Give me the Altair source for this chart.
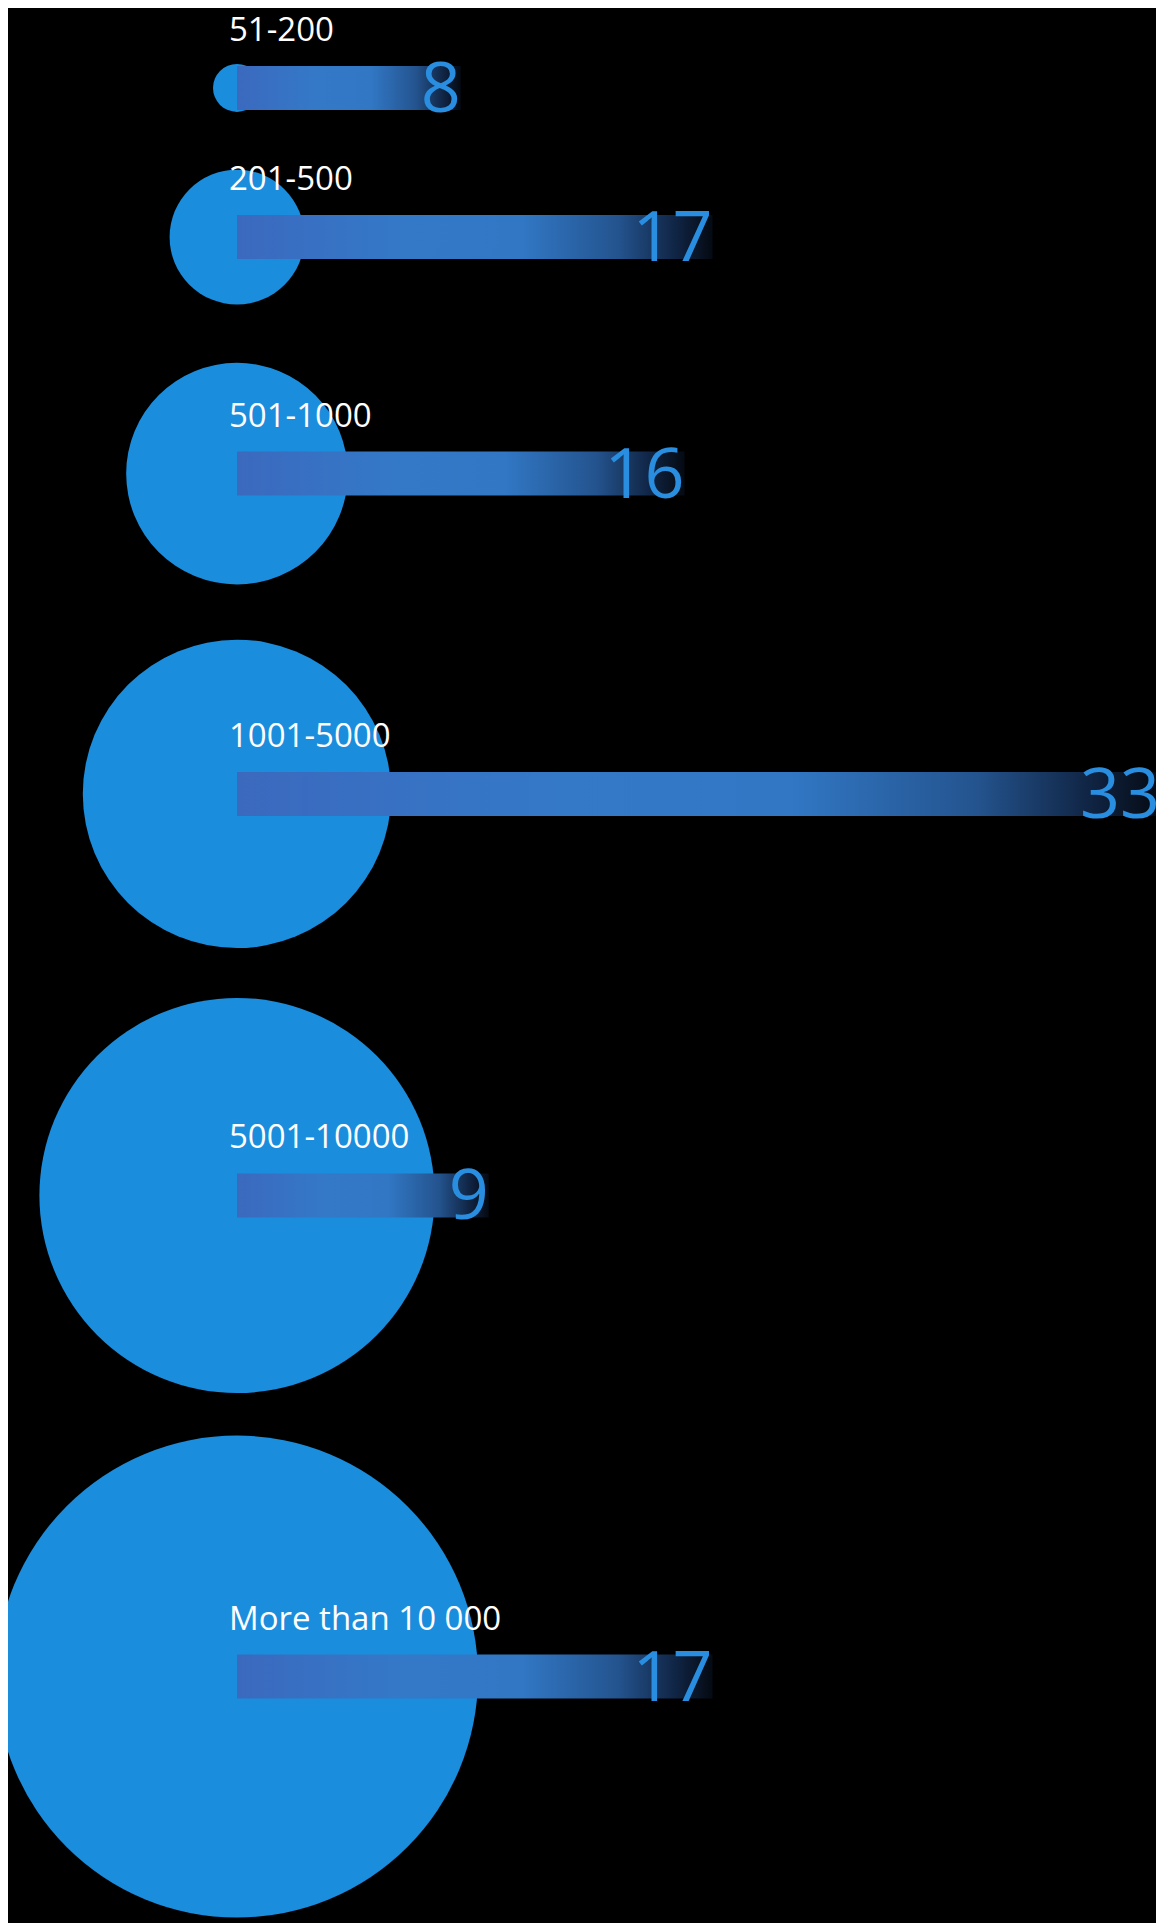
import altair as alt
import pandas as pd

# Company-size categories and number of responses
sizes = ["51-200", "201-500", "501-1000", "1001-5000", "5001-10000", "More than 10 000"]
counts = [8, 17, 16, 33, 9, 17]

df = pd.DataFrame({"size": sizes, "count": counts})

base = alt.Chart(df).transform_window(rank="row_number()")

y_scale = alt.Scale(type="pow", exponent=1.9, domain=[0, 6], range=[20.3, 1673.6])
y_enc = alt.Y("rank:Q", scale=y_scale, axis=None, stack=None)
x_scale = alt.Scale(domain=[0, 33], range=[229, 1152])

circles = base.mark_arc(color="#1a8ddd").encode(
    x=alt.X(datum=0, type="quantitative", scale=x_scale, axis=None),
    y=y_enc,
    theta=alt.value(0),
    theta2=alt.value(6.2832),
    radius=alt.Radius(
        "rank:Q",
        scale=alt.Scale(type="linear", domain=[1, 6], range=[24, 241]),
        stack=None,
    ),
    radius2=alt.value(0),
)

grad = alt.Gradient(
    gradient="linear",
    stops=[
        alt.GradientStop(color="#3b69be", offset=0),
        alt.GradientStop(color="#3479c8", offset=0.35),
        alt.GradientStop(color="#3177c4", offset=0.6),
        alt.GradientStop(color="#24548f", offset=0.8),
        alt.GradientStop(color="#0f2240", offset=0.93),
        alt.GradientStop(color="#050a12", offset=1),
    ],
    x1=0, x2=1, y1=0, y2=0,
)

bars = base.mark_bar(orient="horizontal", color=grad).encode(
    x=alt.X("count:Q", scale=x_scale, axis=None),
    x2=alt.X2(datum=0),
    y=y_enc,
    size=alt.value(44),
)

labels = base.mark_text(
    align="left", baseline="alphabetic", dx=-8, dy=-47,
    font="Open Sans", fontSize=33, color="#ffffff",
).encode(
    x=alt.X(datum=0, type="quantitative", scale=x_scale, axis=None),
    y=y_enc,
    text="size:N",
)

numbers = base.mark_text(
    align="right", baseline="alphabetic", dy=24,
    font="Open Sans", fontSize=70, color="#2a8ee0",
).encode(
    x=alt.X("count:Q", scale=x_scale, axis=None),
    y=y_enc,
    text="count:Q",
)

chart = alt.layer(circles, bars, labels, numbers).properties(
    width=1148, height=1915, padding=0, autosize="none", background="#000000"
).configure_view(stroke=None)

chart.save("out.html", embed_options={"renderer": "svg", "actions": False})
